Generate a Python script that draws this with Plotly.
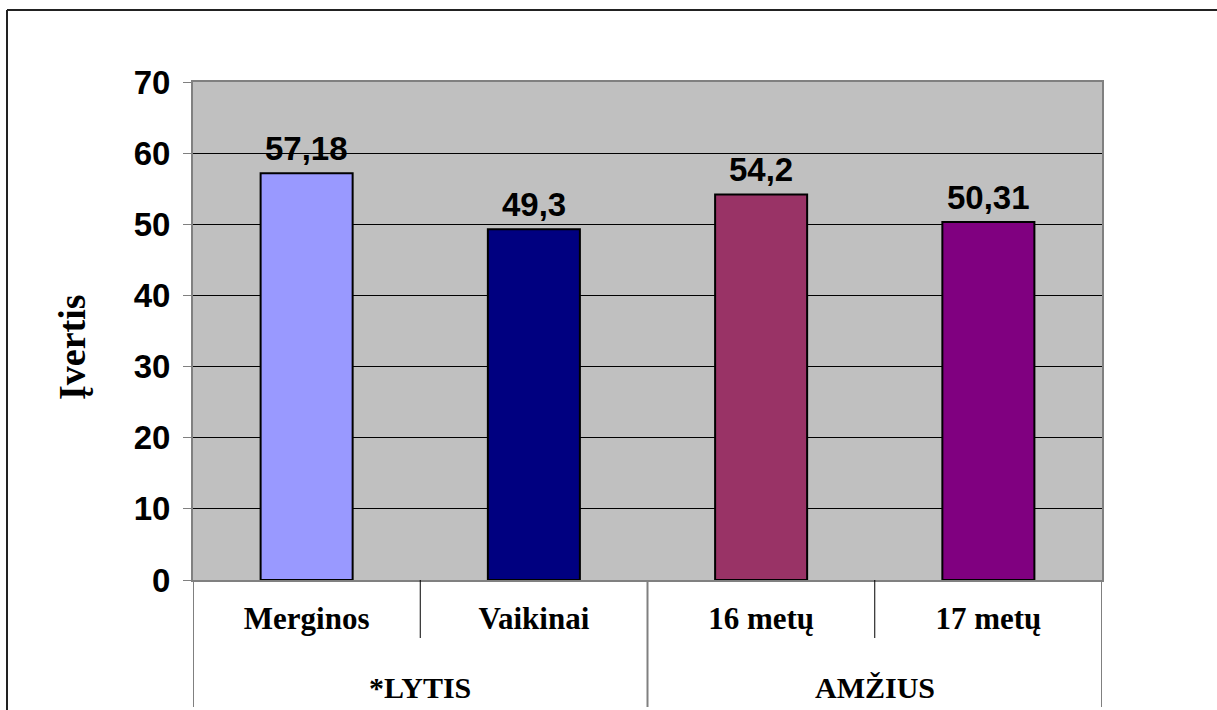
import plotly.graph_objects as go

# Data
categories = ["Merginos", "Vaikinai", "16 metų", "17 metų"]
values = [57.18, 49.3, 54.2, 50.31]
bar_colors = ["#9999FF", "#000080", "#993366", "#800080"]
groups = ["*LYTIS", "AMŽIUS"]
group_members = [[0, 1], [2, 3]]
y_ticks = [0, 10, 20, 30, 40, 50, 60, 70]
y_title = "Įvertis"

# Canvas geometry (pixels)
W, H = 1217, 710
L, R, T, B = 193, 115, 82, 130
PW, PH = W - L - R, H - T - B


def paper_x(px):
    return (px - L) / PW


def paper_y(py):
    return (H - B - py) / PH


SANS = "Liberation Sans, Arial, sans-serif"
SERIF = "Liberation Serif, Times New Roman, serif"
GRAY = "#808080"

fig = go.Figure()
fig.add_trace(go.Bar(
    x=categories,
    y=values,
    width=0.405,
    marker=dict(color=bar_colors, line=dict(color="black", width=2)),
    hoverinfo="skip",
))

# Value labels above bars
annotations = []
for cat, v in zip(categories, values):
    annotations.append(dict(
        x=cat, y=v, xref="x", yref="y",
        text=f"{v:g}".replace(".", ","),
        showarrow=False, yanchor="bottom", yshift=4,
        font=dict(family=SANS, size=33, color="black", weight="bold"),
    ))

# Group labels under the category labels
for name, members in zip(groups, group_members):
    annotations.append(dict(
        x=sum(members) / len(members), y=paper_y(687), xref="x", yref="paper",
        text=name, showarrow=False, xanchor="center", yanchor="middle",
        font=dict(family=SERIF, size=30, color="black", weight="bold"),
    ))

# Y axis title
annotations.append(dict(
    x=paper_x(72), y=paper_y(347), xref="paper", yref="paper",
    text=y_title, textangle=-90, showarrow=False,
    xanchor="center", yanchor="middle",
    font=dict(family=SERIF, size=38, color="black", weight="bold"),
))

shapes = []
# Short dividers between categories inside a group
for members in group_members:
    for a, b in zip(members[:-1], members[1:]):
        xb = (a + b) / 2
        shapes.append(dict(type="line", xref="x", yref="paper",
                           x0=xb, x1=xb, y0=0, y1=paper_y(638),
                           line=dict(color="black", width=1)))
# Long dividers at group edges
edges = sorted({members[0] - 0.5 for members in group_members} |
               {members[-1] + 0.5 for members in group_members})
for xb in edges:
    shapes.append(dict(type="line", xref="x", yref="paper",
                       x0=xb, x1=xb, y0=0, y1=paper_y(707),
                       line=dict(color=GRAY, width=2)))

# Outer frame of the chart object
shapes.append(dict(type="line", xref="paper", yref="paper",
                   x0=paper_x(7), x1=paper_x(1230), y0=paper_y(10), y1=paper_y(10),
                   line=dict(color="#222222", width=2)))
shapes.append(dict(type="line", xref="paper", yref="paper",
                   x0=paper_x(7), x1=paper_x(7), y0=paper_y(10), y1=paper_y(720),
                   line=dict(color="#222222", width=2)))

fig.update_layout(
    width=W, height=H,
    margin=dict(l=L, r=R, t=T, b=B, pad=0),
    paper_bgcolor="white",
    plot_bgcolor="#C0C0C0",
    showlegend=False,
    annotations=annotations,
    shapes=shapes,
    xaxis=dict(
        type="category",
        range=[-0.5, len(categories) - 0.5],
        showgrid=False,
        showline=True, linecolor=GRAY, linewidth=2, mirror=True,
        ticks="",
        tickfont=dict(family=SERIF, size=31, color="black", weight="bold"),
        ticklabelstandoff=10,
    ),
    yaxis=dict(
        range=[0, 70],
        tickvals=y_ticks,
        showgrid=True, gridcolor="black", gridwidth=1,
        zeroline=False,
        showline=True, linecolor=GRAY, linewidth=2, mirror=True,
        ticks="outside", ticklen=8, tickcolor=GRAY, tickwidth=1,
        tickfont=dict(family=SANS, size=33, color="black", weight="bold"),
        ticklabelstandoff=6,
    ),
)

fig.write_html("out.html")
